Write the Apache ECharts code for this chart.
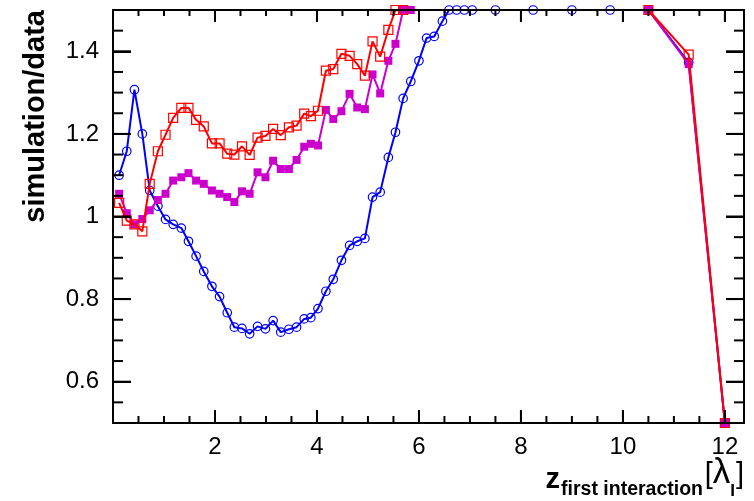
<!DOCTYPE html>
<html><head><meta charset="utf-8">
<script src="https://cdn.jsdelivr.net/npm/echarts@6/dist/echarts.min.js"></script>
<style>html,body{margin:0;padding:0;background:#fff}#c{width:754px;height:501px}</style>
</head><body><div id="c"></div>
<script>
// ---- data ----
const xValues = [0.12,0.27,0.42,0.575,0.72,0.88,1.03,1.18,1.34,1.48,1.63,1.78,1.94,2.09,2.24,2.38,2.53,2.68,2.835,2.99,3.14,3.29,3.45,3.60,3.75,3.88,4.02,4.175,4.32,4.48,4.64,4.79,4.94,5.09,5.24,5.40,5.54,5.69,5.84,6.00,6.15,6.30,6.46,6.59,6.74,6.89,7.045,7.50,8.24,9.00,9.75,10.5,11.29,12.0];
const blueRatio = [1.10,1.158,1.307,1.20,1.063,1.025,0.993,0.981,0.972,0.940,0.904,0.867,0.831,0.806,0.767,0.732,0.729,0.716,0.734,0.728,0.748,0.720,0.727,0.732,0.752,0.755,0.777,0.819,0.848,0.894,0.930,0.940,0.947,1.047,1.059,1.143,1.204,1.286,1.327,1.377,1.432,1.436,1.473,1.50,1.50,1.50,1.50,1.50,1.50,1.50,1.50,1.50,1.373,0.5];
const magentaRatio = [1.055,1.008,0.981,0.994,1.015,1.040,1.055,1.087,1.095,1.105,1.087,1.079,1.063,1.055,1.047,1.035,1.061,1.055,1.107,1.095,1.135,1.115,1.115,1.137,1.169,1.176,1.172,1.258,1.236,1.255,1.297,1.264,1.260,1.344,1.298,1.377,1.418,1.50,1.50,null,null,null,null,null,null,null,null,null,null,null,null,1.50,1.369,0.5];
const redRatio = [1.033,0.990,0.981,0.964,1.079,1.158,1.198,1.239,1.263,1.263,1.234,1.218,1.177,1.177,1.152,1.150,1.170,1.149,1.191,1.195,1.212,1.197,1.216,1.220,1.249,1.243,1.256,1.353,1.357,1.394,1.389,1.369,1.341,1.424,1.387,1.452,1.50,1.50,null,null,null,null,null,null,null,null,null,null,null,null,null,1.50,1.392,0.5];
const xTickLabels = ['2','4','6','8','10','12'];
const yTickLabels = ['0.6','0.8','1','1.2','1.4'];
// tick positions (axis values)
const xMajorTicks = [2, 4, 6, 8, 10, 12];
const xMinorTicks = [0.5, 1, 1.5, 2.5, 3, 3.5, 4.5, 5, 5.5, 6.5, 7, 7.5, 8.5, 9, 9.5, 10.5, 11, 11.5];
const yMajorTicks = [0.6, 0.8, 1.0, 1.2, 1.4];
const yMinorTicks = [0.55, 0.65, 0.7, 0.75, 0.85, 0.9, 0.95, 1.05, 1.1, 1.15, 1.25, 1.3, 1.35, 1.45];

const X_MIN = 0, X_MAX = 12.375, Y_MIN = 0.5, Y_MAX = 1.5;
const FONT = '"Liberation Sans", Arial, Helvetica, sans-serif';

function pairs(xs, ys) { return xs.map((x, i) => [x, ys[i] == null ? null : ys[i]]); }

function frameX(pos, len) {
  return {
    type: 'value', position: pos, min: X_MIN, max: X_MAX, interval: 2, z: 5,
    axisLine: { show: true, onZero: false, lineStyle: { color: '#000', width: 2 } },
    axisTick: { show: true, inside: true, length: len, lineStyle: { color: '#000', width: 2 } },
    axisLabel: {
      show: pos === 'bottom', margin: 12, color: '#000', fontSize: 24, fontFamily: FONT,
      formatter: v => { const s = String(Math.round(v * 1000) / 1000); return xTickLabels.indexOf(s) >= 0 ? s : ''; }
    },
    splitLine: { show: false }
  };
}
function frameY(pos) {
  return {
    type: 'value', position: pos, min: Y_MIN, max: Y_MAX, splitNumber: 5, z: 5,
    axisLine: { show: true, onZero: false, lineStyle: { color: '#000', width: 2 } },
    axisTick: { show: true, inside: true, length: 18, lineStyle: { color: '#000', width: 2 } },
    axisLabel: {
      show: pos === 'left', margin: 14, color: '#000', fontSize: 24, fontFamily: FONT,
      formatter: v => { const s = String(Math.round(v * 10) / 10); return yTickLabels.indexOf(s) >= 0 ? s : ''; }
    },
    splitLine: { show: false }
  };
}

const TICK_STYLE = { stroke: '#000', lineWidth: 2 };
// ROOT-style inner ticks on all four sides, placed through the axis scales (api.coord)
function xTickItem(params, api) {
  const x = api.value(0), major = api.value(2) === 1;
  const b = api.coord([x, Y_MIN]), t = api.coord([x, Y_MAX]);
  const lb = major ? 13 : 7, lt = major ? 12 : 6;
  return { type: 'group', children: [
    { type: 'line', shape: { x1: b[0], y1: b[1], x2: b[0], y2: b[1] - lb }, style: TICK_STYLE },
    { type: 'line', shape: { x1: t[0], y1: t[1], x2: t[0], y2: t[1] + lt }, style: TICK_STYLE }
  ] };
}
function yTickItem(params, api) {
  const y = api.value(1), major = api.value(2) === 1;
  const l = api.coord([X_MIN, y]), r = api.coord([X_MAX, y]);
  const len = major ? 18 : 10;
  return { type: 'group', children: [
    { type: 'line', shape: { x1: l[0], y1: l[1], x2: l[0] + len, y2: l[1] }, style: TICK_STYLE },
    { type: 'line', shape: { x1: r[0], y1: r[1], x2: r[0] - len, y2: r[1] }, style: TICK_STYLE }
  ] };
}
const xTickData = xMajorTicks.map(v => [v, 1, 1]).concat(xMinorTicks.map(v => [v, 1, 0]));
const yTickData = yMajorTicks.map(v => [1, v, 1]).concat(yMinorTicks.map(v => [1, v, 0]));

const option = {
  animation: false,
  backgroundColor: '#fff',
  grid: { left: 113, right: 10, top: 10, bottom: 78, outerBoundsMode: 'none', containLabel: false },
  xAxis: [frameX('bottom', 13), frameX('top', 12)],
  yAxis: [frameY('left'), frameY('right')],
  series: [
    {
      name: 'blue', type: 'line', xAxisIndex: 0, yAxisIndex: 0, z: 2,
      data: pairs(xValues, blueRatio), connectNulls: false, clip: true,
      symbol: 'circle', symbolSize: 8.5,
      itemStyle: { color: 'rgba(0,0,0,0)', borderColor: '#0000ff', borderWidth: 1.2 },
      lineStyle: { color: '#0000ff', width: 2 }
    },
    {
      name: 'magenta', type: 'line', xAxisIndex: 0, yAxisIndex: 0, z: 3,
      data: pairs(xValues, magentaRatio), connectNulls: false, clip: true,
      symbol: 'rect', symbolSize: 8,
      itemStyle: { color: '#cc00cc', borderWidth: 0 },
      lineStyle: { color: '#cc00cc', width: 2 }
    },
    {
      name: 'red', type: 'line', xAxisIndex: 0, yAxisIndex: 0, z: 4,
      data: pairs(xValues, redRatio), connectNulls: false, clip: true,
      symbol: 'rect', symbolSize: 9,
      itemStyle: { color: 'rgba(0,0,0,0)', borderColor: '#ff0000', borderWidth: 1.2 },
      lineStyle: { color: '#ff0000', width: 2 }
    },
    {
      name: 'xticks', type: 'custom', xAxisIndex: 0, yAxisIndex: 0, z: 6, clip: false, silent: true,
      encode: { x: 0, y: 1 }, data: xTickData, renderItem: xTickItem
    },
    {
      name: 'yticks', type: 'custom', xAxisIndex: 0, yAxisIndex: 0, z: 6, clip: false, silent: true,
      encode: { x: 0, y: 1 }, data: yTickData, renderItem: yTickItem
    }
  ],
  graphic: [
    {
      type: 'text', x: 36, y: 10, rotation: Math.PI / 2,
      style: { text: 'simulation/data', fill: '#000', font: 'bold 29px ' + FONT, align: 'right', verticalAlign: 'middle' }
    },
    {
      type: 'text', x: 744, y: 500,
      style: {
        text: '{z|z}{sub|first interaction}{sp| }{br|[}{lam|λ}{si|I}{br|]}',
        align: 'right', verticalAlign: 'bottom', fill: '#000',
        rich: {
          z: { fontSize: 29, fontWeight: 'bold', fontFamily: FONT, lineHeight: 29, verticalAlign: 'bottom', padding: [0, 1, 6, 0] },
          sub: { fontSize: 19.5, fontWeight: 'bold', fontFamily: FONT, lineHeight: 20, verticalAlign: 'bottom', padding: [0, 0, 0, 0] },
          sp: { fontSize: 6, fontFamily: FONT, lineHeight: 6, verticalAlign: 'bottom' },
          br: { fontSize: 29, fontFamily: FONT, lineHeight: 29, verticalAlign: 'bottom', padding: [0, 0, 11, 0] },
          lam: { fontSize: 35, fontFamily: FONT, lineHeight: 35, verticalAlign: 'bottom', padding: [0, 0, 9, 0] },
          si: { fontSize: 17, fontWeight: 'bold', fontFamily: FONT, lineHeight: 17, verticalAlign: 'bottom', padding: [0, 1, 0, 0] }
        }
      }
    }
  ]
};

const chart = echarts.init(document.getElementById('c'));
chart.setOption(option);
</script>
</body></html>
